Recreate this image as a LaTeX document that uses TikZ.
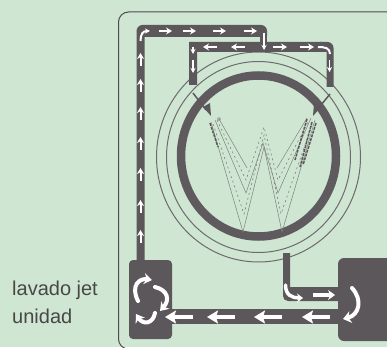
\documentclass[tikz,border=0pt]{standalone}
\usepackage{fontspec}
\setmainfont{Liberation Sans}
\usetikzlibrary{arrows.meta,calc}
\definecolor{bgreen}{HTML}{CFE6D2}
\definecolor{ductc}{HTML}{5C575B}
\definecolor{ringc}{HTML}{6E6A6E}
\definecolor{wline}{HTML}{7F807F}
\tikzset{
  frameln/.style={line width=1pt,ductc!85!black,rounded corners=10pt},
  ductln/.style={draw=ductc,line cap=butt,line join=round},
  tank/.style={fill=ductc,rounded corners=4pt,inner sep=0pt},
  flow/.style={white,line width=2pt,-{Stealth[length=6pt,width=7pt]}},
  flowthin/.style={white,line width=1.5pt,-{Stealth[length=5pt,width=5pt]}},
  flowbig/.style={white,line width=4pt,-{Stealth[length=11pt,width=13pt,inset=2pt]}},
  swirl/.style={white,line width=4pt,line cap=round,-{Stealth[length=8pt,width=11pt]}},
  thinring/.style={ringc,line width=1pt},
  wsolid/.style={wline,line width=0.5pt,line join=miter},
  wdash/.style={wline,line width=0.6pt,dash pattern=on 2pt off 3pt},
  wdark/.style={ductc,line width=1.5pt,dash pattern=on 3pt off 1pt},
  lbl/.style={font=\fontsize{20}{24}\selectfont,text=black!72,anchor=base west,inner sep=0pt},
}
\begin{document}
\begin{tikzpicture}[x=1pt,y=-1pt]
  \useasboundingbox (0,0) rectangle (387,347);
  \fill[bgreen] (0,0) rectangle (387,347);
  \draw[frameln] (395,12) -- (118.5,12) -- (118.5,349) -- (395,349);
  % labels
  \node[lbl] (lavado) at (12,295) {lavado jet};
  \node[lbl] (unidad) at (12,323) {unidad};
  % rings of the drum
  \draw[thinring] (258.5,157) ellipse (102 and 105);
  \draw[thinring] (258.5,157) ellipse (92 and 95.5);
  \draw[ringc!85!black,line width=8.5pt] (258.5,156) ellipse (77.5 and 80.5);
  % ducts on top
  \fill[ductc] (136.5,265) [rounded corners=6pt] -- (136.5,25) -- (267,25) [rounded corners=1pt] -- (267,37) [sharp corners] -- (144.5,37) -- (144.5,265) -- cycle;
  \draw[ductln,line width=7pt] (263.5,30) -- (263.5,46);
  \fill[ductc] (193,85) -- (189,85) -- (189,42) -- (322,42) -- (322,52) -- (197,52) -- (197,85) -- cycle;
  \fill[ductc] (320,42) [rounded corners=6pt] -- (333.5,42) [sharp corners] -- (333.5,87) -- (326.5,87) -- (326.5,52) -- (320,52) -- cycle;
  % spray feeds
  \draw[ductc,line width=1.5pt] (193,93) -- (206,110);
  \fill[ductc] (211,116) -- (203,107) -- (210,103) -- cycle;
  \draw[ductc,line width=1.5pt] (330,94) -- (317,110);
  \fill[ductc] (313,116) -- (314,103) -- (321,107) -- cycle;
  % the W
  \draw[wsolid] (211,122) -- (243,232) -- (264,147) -- (282,232) -- (315,120);
  \draw[wsolid] (215,120) -- (246,193) -- (263,143) -- (278,193) -- (311,118);
  \draw[wsolid] (219,119) -- (247,168);
  \draw[wsolid] (277,168) -- (307,118);
  \draw[wsolid] (219,119) circle (1.5);
  \draw[wdash] (213,124) -- (244,214) -- (264,135) -- (281,214) -- (313,122);
  \draw[wdash] (217,120) -- (246,180) -- (264,127) -- (278,180) -- (309,120);
  \draw[wdark] (210,123) -- (218,147);
  \draw[wdark] (307,119) -- (295,160);
  \draw[wdark] (312,122) -- (300,167);
  \draw[wdark] (316,123) -- (303,165);
  % lower ducts and tanks
  \fill[ductc] (283,253) [rounded corners=5pt] -- (283,301) [sharp corners] -- (340,301) -- (340,287) -- (290,287) -- (290,253) -- cycle;
  \draw[ductln,line width=15pt] (170,316.5) -- (340,316.5);
  \node[tank,minimum width=43pt,minimum height=79pt] (washtank) at (150.5,299.5) {};
  \node[tank,minimum width=56pt,minimum height=83pt,rounded corners=6pt] (pumptank) at (366,299.5) {};
  % flow arrows on top
  \foreach \xa in {159,183,213,244}
    \draw[flow] (\xa,31) -- ++(13,0);
  \foreach \ya in {243,213,181,150,120,92,66}
    \draw[flow] (140.5,\ya) -- ++(0,-13);
  \draw[flowthin,line width=2pt] (140.5,41) .. controls (140.5,34) and (143,31) .. (150,31);
  \draw[flowthin] (264,33) -- (264,50);
  \foreach \xa in {217,245}
    \draw[flow] (\xa,47) -- ++(-14,0);
  \foreach \xa in {273,300}
    \draw[flow] (\xa,47) -- ++(14,0);
  \draw[white,line width=2pt] (318,47) .. controls (325,47) and (330,48) .. (330,54);
  \draw[flowthin] (329.5,60) -- ++(0,12);
  \draw[flowthin] (193,47) -- ++(0,7);
  \draw[flowthin] (193,60) -- ++(0,13);
  % flow arrows at the bottom
  \foreach \xa in {330,282,235,193}
    \draw[flowbig] (\xa,317) -- ++(-28,0);
  \draw[flow,line width=3.5pt,-{Stealth[length=7pt,width=10pt]}] (313,295) -- (335,295);
  \draw[swirl,line width=3.5pt,-{Stealth[length=6pt,width=9pt]}] (285.5,285) .. controls (285.5,295) and (292,298) .. (303,298);
  \draw[swirl,-{Stealth[length=8pt,width=12pt]}] (352,288) .. controls (363,300) and (359,315) .. (343,319);
  \draw[swirl] (138,301) .. controls (130,285) and (140,278) .. (152,280);
  \draw[swirl] (155,287) .. controls (168,290) and (170,300) .. (160,311);
  \draw[swirl] (155,313) .. controls (153,324) and (143,325) .. (136,314);
\end{tikzpicture}
\end{document}
